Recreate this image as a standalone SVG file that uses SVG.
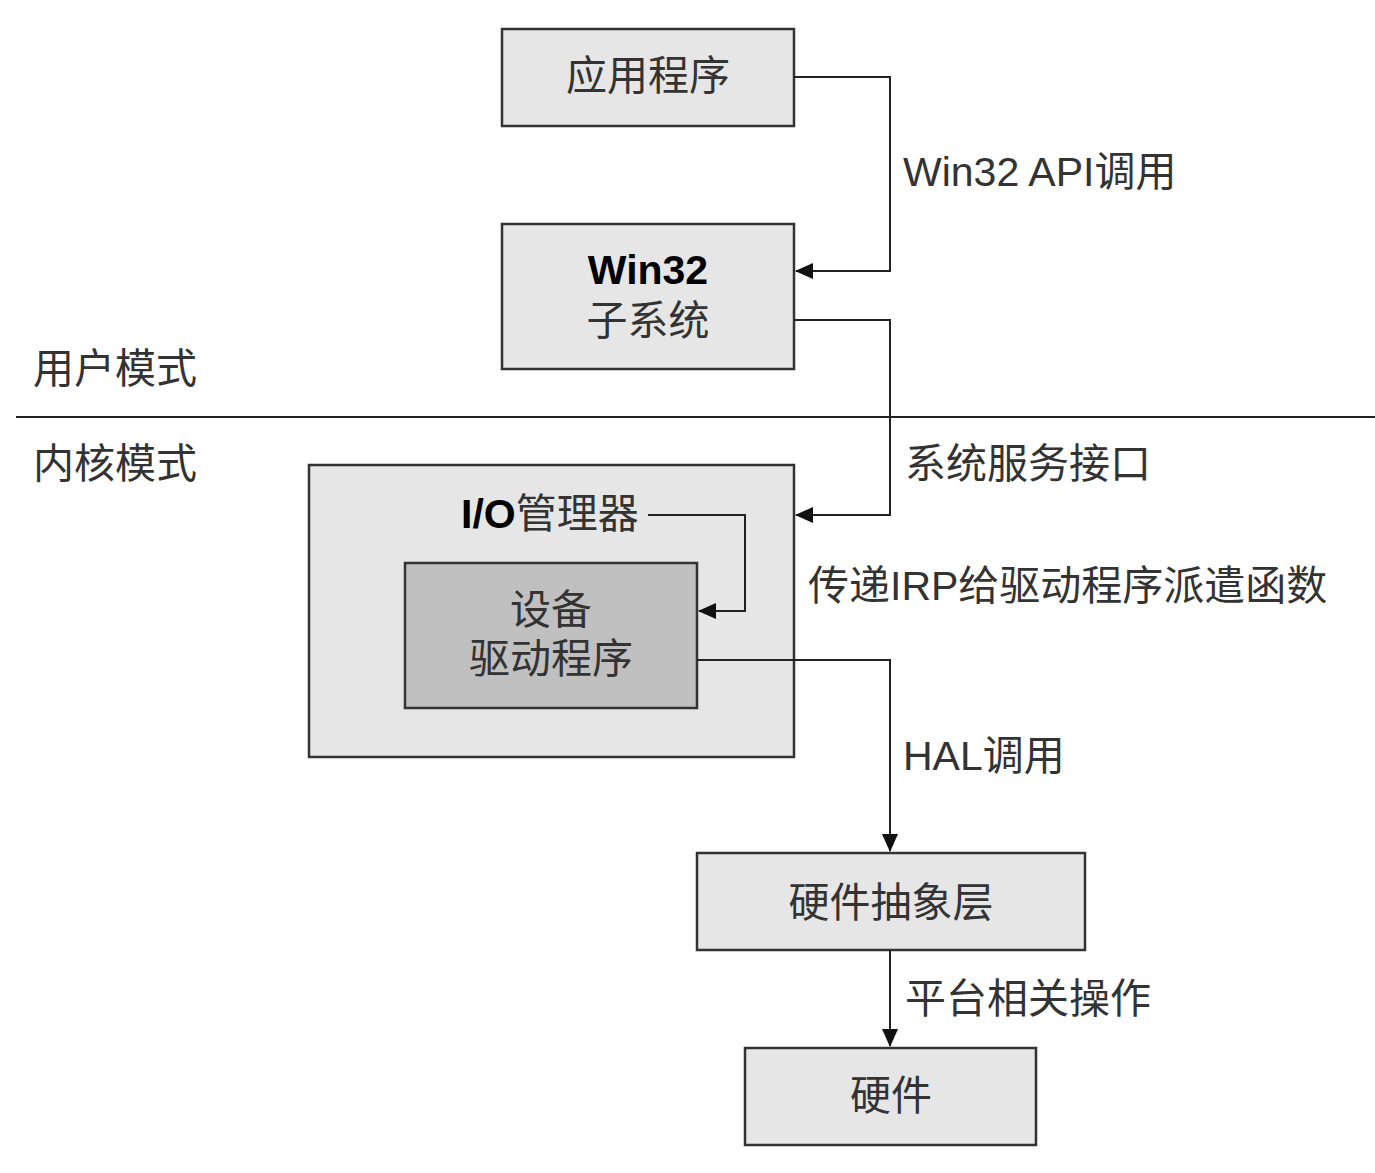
<svg xmlns="http://www.w3.org/2000/svg" width="1375" height="1173" viewBox="0 0 1375 1173">
<style>
.box{fill:#e6e6e6;stroke:#333;stroke-width:2.5}
.dark{fill:#c0c0c0;stroke:#333;stroke-width:2.5}
.t{font-family:"Liberation Sans","Noto Sans CJK SC",sans-serif;font-size:41px;fill:#333}
.c{text-anchor:middle}
.b{font-weight:bold;fill:#000}
.ln{fill:none;stroke:#222;stroke-width:2}
</style>
<defs>
<marker id="ah" markerUnits="userSpaceOnUse" markerWidth="18" markerHeight="16" refX="17" refY="8" orient="auto">
<path d="M0,0 L18,8 L0,16 Z" fill="#111"/>
</marker>
</defs>
<rect width="1375" height="1173" fill="#fff"/>
<line x1="16" y1="417" x2="1375" y2="417" stroke="#222" stroke-width="2"/>
<text class="t" x="33" y="383">用户模式</text>
<text class="t" x="33" y="478">内核模式</text>

<g id="app"><rect class="box" x="502" y="29" width="292" height="97"/><text class="t c" x="648" y="90">应用程序</text></g>
<g id="win32"><rect class="box" x="502" y="224" width="292" height="145"/><text class="t c b" x="648" y="284">Win32</text><text class="t c" x="648" y="335">子系统</text></g>
<g id="io"><rect class="box" x="309" y="465" width="485" height="292"/><text class="t" x="461" y="528"><tspan class="b">I/O</tspan>管理器</text></g>
<g id="driver"><rect class="dark" x="405" y="563" width="292" height="145"/><text class="t c" x="551" y="624">设备</text><text class="t c" x="551" y="673">驱动程序</text></g>
<g id="hal"><rect class="box" x="697" y="853" width="388" height="97"/><text class="t c" x="891" y="917">硬件抽象层</text></g>
<g id="hw"><rect class="box" x="745" y="1048" width="291" height="97"/><text class="t c" x="891" y="1110">硬件</text></g>

<g id="connectors">
<polyline class="ln" points="794,77 890,77 890,271 796,271" marker-end="url(#ah)"/>
<polyline class="ln" points="794,320 890,320 890,515 796,515" marker-end="url(#ah)"/>
<polyline class="ln" points="648,515 745,515 745,611 699,611" marker-end="url(#ah)"/>
<polyline class="ln" points="697,660 890,660 890,851" marker-end="url(#ah)"/>
<polyline class="ln" points="890,950 890,1046" marker-end="url(#ah)"/>
<text class="t" x="903" y="186">Win32 API调用</text>
<text class="t" x="905" y="478">系统服务接口</text>
<text class="t" x="808" y="600">传递IRP给驱动程序派遣函数</text>
<text class="t" x="903" y="770">HAL调用</text>
<text class="t" x="905" y="1013">平台相关操作</text>
</g>
</svg>
